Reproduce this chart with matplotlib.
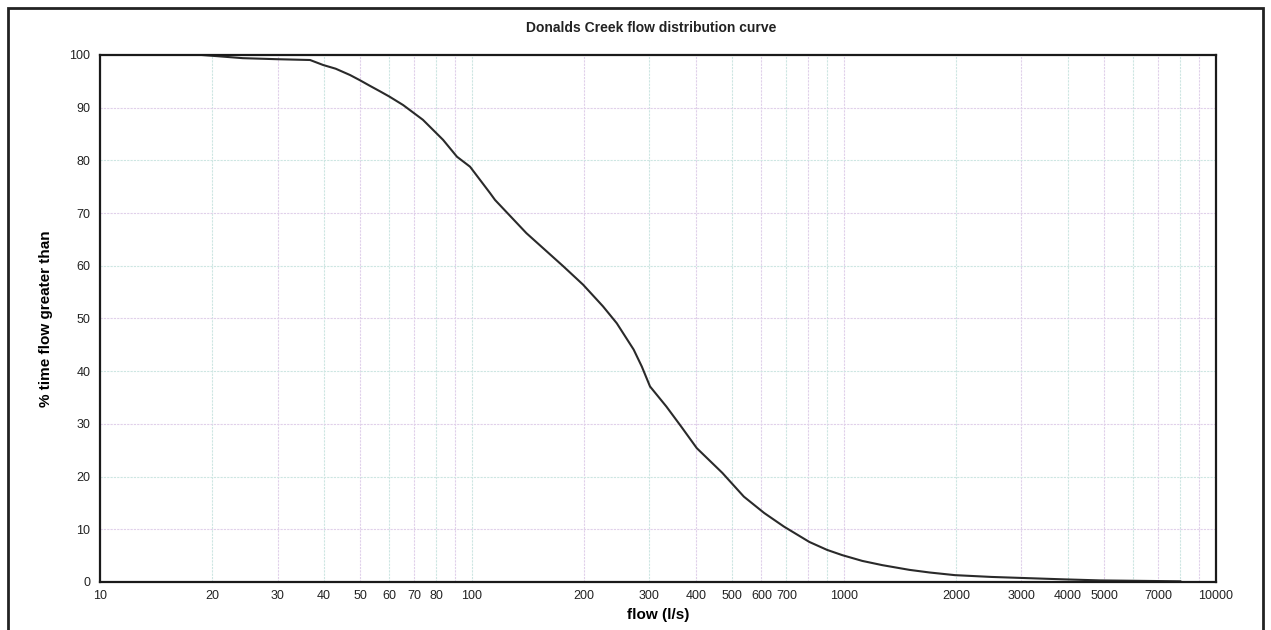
import matplotlib.pyplot as plt
from matplotlib.patches import Rectangle
from matplotlib.ticker import FixedLocator, NullFormatter

plt.rcParams['font.family'] = ['Liberation Sans', 'DejaVu Sans']

# values
flow = [18.8, 24.2, 30, 36.7, 39.8, 43, 47, 50, 53, 56.6, 60, 65.3, 73.8, 83.6,
        91.1, 98.8, 111.8, 115.3, 140, 176, 199, 225, 245, 272, 286, 301, 333,
        365, 402, 471, 538, 610, 690, 807, 900, 989, 1120, 1267, 1500, 1700,
        1987, 2490, 3900, 4890, 8020]
pct_time = [100, 99.4, 99.2, 99.05, 98.1, 97.4, 96.2, 95.2, 94.2, 93.1, 92.1,
            90.5, 87.7, 83.9, 80.7, 78.8, 73.8, 72.5, 66.2, 59.9, 56.4, 52.3,
            49.1, 44.1, 40.9, 37.1, 33.3, 29.5, 25.4, 20.7, 16.2, 13.1, 10.5,
            7.6, 6.1, 5.1, 4.0, 3.2, 2.3, 1.8, 1.3, 0.96, 0.5, 0.3, 0.13]

x_labels = [10, 20, 30, 40, 50, 60, 70, 80, 100, 200, 300, 400, 500, 600, 700,
            1000, 2000, 3000, 4000, 5000, 7000, 10000]
x_grid = [m * d for d in (10, 100, 1000) for m in range(1, 10)] + [10000]
y_ticks = list(range(0, 101, 10))

fig = plt.figure(figsize=(12.71, 6.30), dpi=100)
ax = fig.add_axes([0.0787, 0.0762, 0.878, 0.8365])

ax.plot(flow, pct_time, color='#2a2a2a', lw=1.5)

ax.set_xscale('log')
ax.set_xlim(10, 10000)
ax.set_ylim(0, 100)
ax.xaxis.set_major_locator(FixedLocator(x_labels))
ax.xaxis.set_minor_locator(FixedLocator(x_grid))
ax.xaxis.set_minor_formatter(NullFormatter())
ax.set_xticklabels([str(v) for v in x_labels])
ax.set_yticks(y_ticks)
ax.tick_params(axis='both', which='both', length=0, labelsize=9, colors='#222222')
ax.tick_params(axis='x', pad=6)
ax.tick_params(axis='y', pad=7)

# faint coloured grid like the print
grid_cols = ['#e0d0ea', '#cde6e2']
for i, v in enumerate(x_grid):
    ax.axvline(v, color=grid_cols[i % 2], lw=0.8, ls=(0, (2, 1)), zorder=0)
for i, v in enumerate(y_ticks[1:-1]):
    ax.axhline(v, color=grid_cols[i % 2], lw=0.8, ls=(0, (2, 1)), zorder=0)

for s in ax.spines.values():
    s.set_linewidth(1.6)
    s.set_color('#1a1a1a')

ax.set_xlabel('flow (l/s)', fontsize=11, fontweight='bold', labelpad=4)
ax.set_ylabel('% time flow greater than', fontsize=11, fontweight='bold', labelpad=12)
fig.text(0.512, 0.955, 'Donalds Creek flow distribution curve', ha='center', va='center',
         fontsize=10, fontweight='bold', color='#222222')

# outer frame of the scanned page
fig.patches.append(Rectangle((0.0063, -0.05), 0.9874, 1.037, transform=fig.transFigure,
                             fill=False, lw=2, edgecolor='#222222'))

plt.savefig('out.png', dpi=100)
